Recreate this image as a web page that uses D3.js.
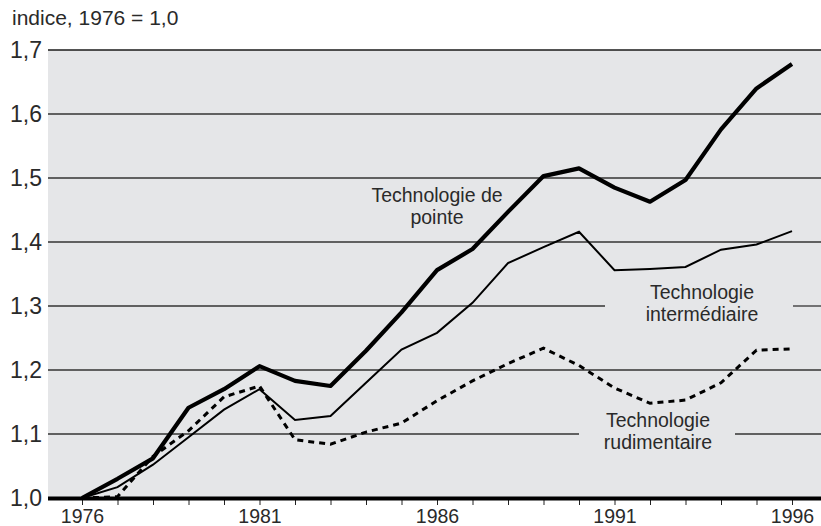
<!DOCTYPE html>
<html><head><meta charset="utf-8">
<script src="https://cdn.jsdelivr.net/npm/d3@7"></script>
<style>body{margin:0;background:#fff}svg{display:block}text{font-family:"Liberation Sans",Arial,Helvetica,sans-serif;fill:#2a2a2a}</style>
</head><body><svg id="c" width="821" height="526"></svg>
<script>
const years = d3.range(1976, 1997);
const pointe = [1.0,1.03,1.062,1.141,1.17,1.206,1.183,1.175,1.23,1.29,1.356,1.389,1.447,1.503,1.515,1.485,1.463,1.497,1.576,1.64,1.678];
const intermediaire = [1.0,1.017,1.052,1.095,1.138,1.17,1.122,1.128,1.18,1.232,1.258,1.305,1.367,1.392,1.416,1.356,1.358,1.361,1.388,1.396,1.417];
const rudimentaire = [1.0,1.002,1.065,1.105,1.158,1.175,1.091,1.084,1.103,1.117,1.152,1.183,1.21,1.234,1.207,1.172,1.148,1.153,1.18,1.231,1.233];
const yTicks = [1.0,1.1,1.2,1.3,1.4,1.5,1.6,1.7];
const yTickLabels = ["1,0","1,1","1,2","1,3","1,4","1,5","1,6","1,7"];
const xLabelYears = [1976,1981,1986,1991,1996];
const title = "indice, 1976 = 1,0";

const svg = d3.select("#c");
const x = d3.scaleLinear().domain([1976,1996]).range([82,792]);
const y = d3.scaleLinear().domain([1.0,1.7]).range([498,50]);
const left = 48, right = 821;

svg.append("rect").attr("x",left).attr("y",y(1.7)).attr("width",right-left).attr("height",y(1.0)-y(1.7)).attr("fill","#e5e6e8");

// gridlines (with gaps behind labels)
const gaps = {1.3:[605,793], 1.1:[579,735]};
yTicks.slice(1).forEach(t=>{
  const g = gaps[t];
  const segs = g ? [[left,g[0]],[g[1],right]] : [[left,right]];
  segs.forEach(s=>svg.append("line").attr("x1",s[0]).attr("x2",s[1]).attr("y1",y(t)).attr("y2",y(t))
    .attr("stroke", t===1.7?"#1a1a1a":"#333").attr("stroke-width", t===1.7?1.6:1.3));
});

// y labels
yTicks.forEach((t,i)=>svg.append("text").attr("x",10).attr("y",y(t)+8).attr("font-size",23).text(yTickLabels[i]));
svg.append("text").attr("x",12).attr("y",25).attr("font-size",21).text(title);

// x axis
const xAxis = d3.axisBottom(x).tickValues(years).tickSize(5).tickFormat(d=>xLabelYears.includes(d)?String(d):"");
const ax = svg.append("g").attr("transform",`translate(0,${y(1.0)+2})`).call(xAxis);
ax.select(".domain").remove();
ax.selectAll(".tick line").attr("stroke","#222").attr("stroke-width",1);
ax.selectAll(".tick text").attr("font-size",19.5).attr("dy",0).attr("y",23).attr("fill","#2a2a2a").attr("font-family","Liberation Sans, Arial, sans-serif");
svg.append("line").attr("x1",left).attr("x2",right).attr("y1",y(1.0)+0.5).attr("y2",y(1.0)+0.5).attr("stroke","#000").attr("stroke-width",4);

const line = d3.line().x((d,i)=>x(years[i])).y(d=>y(d));
svg.append("path").datum(rudimentaire).attr("d",line).attr("fill","none").attr("stroke","#000").attr("stroke-width",3).attr("stroke-dasharray","6,5");
svg.append("path").datum(intermediaire).attr("d",line).attr("fill","none").attr("stroke","#000").attr("stroke-width",2);
svg.append("path").datum(pointe).attr("d",line).attr("fill","none").attr("stroke","#000").attr("stroke-width",4.2).attr("stroke-linejoin","round");

function label(cx, y1, lines){
  lines.forEach((l,i)=>svg.append("text").attr("x",cx).attr("y",y1+i*22).attr("text-anchor","middle").attr("font-size",19.5).text(l));
}
label(437, 202, ["Technologie de","pointe"]);
label(702, 299, ["Technologie","intermédiaire"]);
label(658, 427, ["Technologie","rudimentaire"]);
</script></body></html>
